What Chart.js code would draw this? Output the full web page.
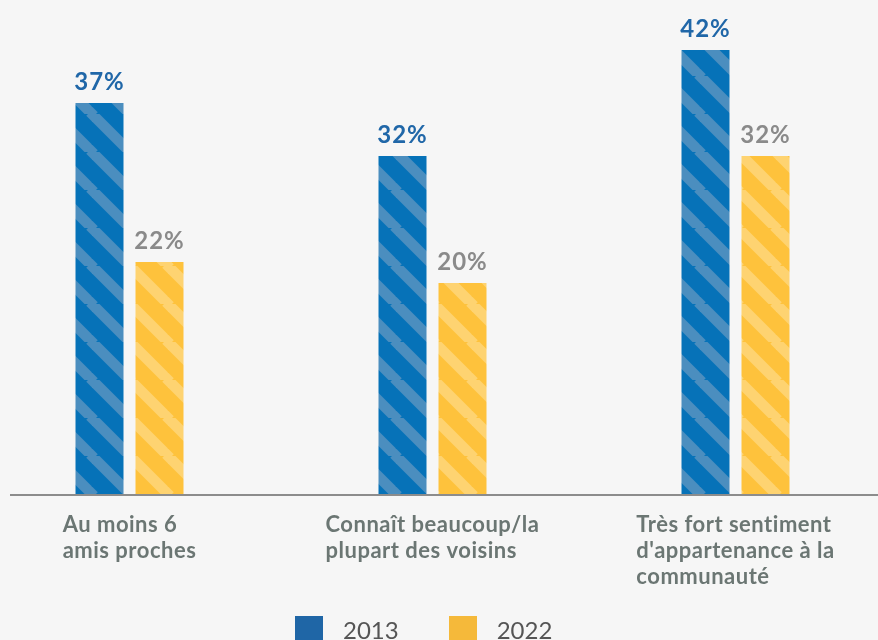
<!DOCTYPE html>
<html lang="fr">
<head>
<meta charset="utf-8">
<title>Amis, voisins et appartenance</title>
<script src="https://cdn.jsdelivr.net/npm/chart.js@4/dist/chart.umd.min.js"></script>
<style>
    html, body {
        margin: 0;
        padding: 0;
        width: 878px;
        height: 640px;
        overflow: hidden;
        background: #f6f6f6;
        font-family: Lato, "Open Sans", sans-serif;
    }
    .chart-wrap {
        position: absolute;
        left: -22px;
        top: 0;
        width: 909px;
        height: 640px;
    }
    #legend {
        position: absolute;
        left: 295px;
        top: 616px;
        display: flex;
        align-items: flex-start;
    }
    .legend-item {
        display: flex;
        align-items: flex-start;
        margin-right: 50px;
    }
    .legend-box {
        width: 28px;
        height: 28px;
        margin-right: 20px;
    }
    .legend-text {
        font-size: 24px;
        line-height: 1.2;
        color: #555;
    }
</style>
</head>
<body>
<div class="chart-wrap"><canvas id="amisChart"></canvas></div>
<div id="legend"></div>

<script>
// Data
const categories = [
    ['Au moins 6', 'amis proches'],
    ['Connaît beaucoup/la', 'plupart des voisins'],
    ['Très fort sentiment', "d'appartenance à la", 'communauté']
];
const years = ['2013', '2022'];
const values2013 = [37, 32, 42];
const values2022 = [22, 20, 32];

const barColors = ['#0672b8', '#fec23c'];
const stripeColors = ['#4b8ebf', '#fed371'];
const legendColors = ['#1f66a6', '#f5b93a'];
const valueColors = ['#2067a8', '#8a8a8a'];

// Diagonal striped fill
function makeStripes(base, stripe) {
    const size = 38;
    const tile = document.createElement('canvas');
    tile.width = size;
    tile.height = size;
    const t = tile.getContext('2d');
    t.fillStyle = base;
    t.fillRect(0, 0, size, size);
    t.strokeStyle = stripe;
    t.lineWidth = 10.6;
    for (let k = -1; k <= 1; k++) {
        t.beginPath();
        t.moveTo(k * size - 2, -2);
        t.lineTo(k * size + size + 2, size + 2);
        t.stroke();
    }
    return t.createPattern(tile, 'repeat');
}

// Value labels above each bar
const valueLabels = {
    id: 'valueLabels',
    afterDatasetsDraw(chart) {
        const ctx = chart.ctx;
        ctx.save();
        ctx.font = 'bold 24px Lato';
        ctx.letterSpacing = '1px';
        ctx.textAlign = 'center';
        ctx.textBaseline = 'alphabetic';
        chart.data.datasets.forEach((ds, i) => {
            const meta = chart.getDatasetMeta(i);
            ctx.fillStyle = valueColors[i];
            meta.data.forEach((bar, j) => {
                ctx.fillText(ds.data[j] + '%', bar.x, bar.y - 13);
            });
        });
        ctx.restore();
    }
};

// Baseline and left-aligned category labels
const categoryAxis = {
    id: 'categoryAxis',
    afterDraw(chart) {
        const ctx = chart.ctx;
        const area = chart.chartArea;
        const xScale = chart.scales.x;
        ctx.save();
        ctx.strokeStyle = '#8c8c8c';
        ctx.lineWidth = 2;
        ctx.beginPath();
        ctx.moveTo(32, area.bottom);
        ctx.lineTo(chart.width, area.bottom);
        ctx.stroke();

        ctx.font = 'bold 22px Lato';
        ctx.letterSpacing = '0.5px';
        ctx.fillStyle = '#6b7673';
        ctx.textAlign = 'left';
        ctx.textBaseline = 'alphabetic';
        categories.forEach((lines, i) => {
            const cx = xScale.getPixelForTick(i);
            const w = Math.max(...lines.map(l => ctx.measureText(l).width));
            lines.forEach((line, j) => {
                ctx.fillText(line, cx - w / 2, area.bottom + 37 + j * 26);
            });
        });
        ctx.restore();
    }
};

const ctx = document.getElementById('amisChart');

const amisChart = new Chart(ctx, {
    type: 'bar',
    data: {
        labels: categories,
        datasets: [
            {
                label: years[0],
                data: values2013,
                backgroundColor: makeStripes(barColors[0], stripeColors[0]),
                borderWidth: 0
            },
            {
                label: years[1],
                data: values2022,
                backgroundColor: makeStripes(barColors[1], stripeColors[1]),
                borderWidth: 0
            }
        ]
    },
    options: {
        responsive: true,
        maintainAspectRatio: false,
        animation: false,
        datasets: {
            bar: {
                categoryPercentage: 0.396,
                barPercentage: 0.8
            }
        },
        layout: {
            padding: { top: 50, bottom: 145, left: 0, right: 0 }
        },
        plugins: {
            legend: { display: false },
            tooltip: { enabled: false }
        },
        scales: {
            x: { display: false },
            y: { display: false, min: 0, max: 42 }
        }
    },
    plugins: [valueLabels, categoryAxis]
});

// HTML legend
const legendEl = document.getElementById('legend');
amisChart.data.datasets.forEach((ds, i) => {
    const item = document.createElement('div');
    item.className = 'legend-item';
    const box = document.createElement('span');
    box.className = 'legend-box';
    box.style.background = legendColors[i];
    const text = document.createElement('span');
    text.className = 'legend-text';
    text.textContent = ds.label;
    item.appendChild(box);
    item.appendChild(text);
    legendEl.appendChild(item);
});
</script>
</body>
</html>
